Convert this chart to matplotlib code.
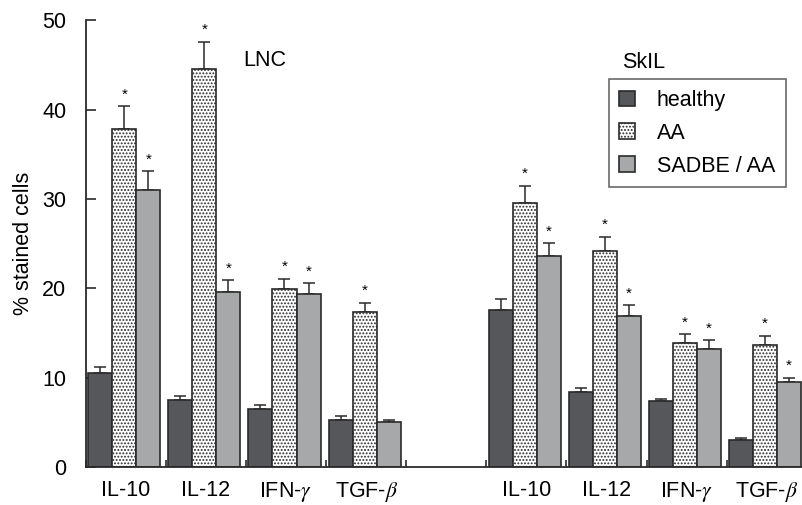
import matplotlib
matplotlib.use("Agg")
import matplotlib.pyplot as plt
import numpy as np

plt.rcParams['font.family'] = ['Liberation Sans', 'DejaVu Sans']
plt.rcParams['mathtext.fontset'] = 'stix'
plt.rcParams['hatch.linewidth'] = 0.9

# categories (slot 4 is the empty gap between LNC and SkIL)
labels = ['IL-10', 'IL-12', r'IFN-$\gamma$', r'TGF-$\beta$', '',
          'IL-10', 'IL-12', r'IFN-$\gamma$', r'TGF-$\beta$']
groups = ['healthy', 'AA', 'SADBE / AA']

healthy = [10.5, 7.5, 6.5, 5.3, None, 17.6, 8.4, 7.35, 3.0]
healthy_err = [0.7, 0.5, 0.4, 0.4, None, 1.2, 0.5, 0.3, 0.3]
aa = [37.8, 44.5, 19.9, 17.3, None, 29.6, 24.2, 13.9, 13.7]
aa_err = [2.6, 3.1, 1.2, 1.1, None, 1.9, 1.6, 1.0, 1.0]
sadbe = [31.0, 19.6, 19.4, 5.0, None, 23.6, 16.9, 13.2, 9.5]
sadbe_err = [2.1, 1.3, 1.2, 0.3, None, 1.5, 1.2, 1.0, 0.5]

# significance marks
aa_star = [1, 1, 1, 1, 0, 1, 1, 1, 1]
sadbe_star = [1, 1, 1, 0, 0, 1, 1, 1, 1]

fig = plt.figure(figsize=(8.02, 5.05), dpi=100)
ax = fig.add_axes([0.107, 0.075, 0.899, 0.885])

edge = '#2a2a2a'
w = 0.3
x = np.arange(len(labels))
series = [
    (healthy, healthy_err, None, dict(color='#55575a', edgecolor=edge)),
    (aa, aa_err, aa_star, dict(color='white', edgecolor=edge, hatch='.....')),
    (sadbe, sadbe_err, sadbe_star, dict(color='#a7a8aa', edgecolor=edge)),
]

handles = []
for k, (vals, errs, stars, style) in enumerate(series):
    xs = [xi + (k - 1) * w - 0.02 for xi, v in zip(x, vals) if v is not None]
    vs = [v for v in vals if v is not None]
    es = [e for e in errs if e is not None]
    b = ax.bar(xs, vs, width=w, linewidth=1.2, label=groups[k], zorder=2, **style)
    handles.append(b)
    ax.errorbar(xs, vs, yerr=[np.zeros(len(es)), es], fmt='none', ecolor=edge,
                elinewidth=1.1, capsize=4.5, capthick=1.1, zorder=1)
    if stars is not None:
        st = [s for s, v in zip(stars, vals) if v is not None]
        for xi, v, e, s in zip(xs, vs, es, st):
            if s:
                ax.text(xi, v + e + 0.5, '*', ha='center', va='bottom', fontsize=11)

ax.set_xlim(-0.5, 8.5)
ax.set_ylim(0, 50)
ax.set_yticks([0, 10, 20, 30, 40, 50])
ax.tick_params(axis='y', direction='in', length=7, width=1.2, labelsize=15.5, pad=14, color=edge)
ax.set_xticks(x)
ax.set_xticklabels(labels, fontsize=15.5)
ax.tick_params(axis='x', which='major', length=0, pad=9)
ax.set_xticks(np.arange(-0.5, 9, 1), minor=True)
ax.tick_params(axis='x', which='minor', direction='in', length=5, width=1.2, color=edge)
for s in ['top', 'right']:
    ax.spines[s].set_visible(False)
for s in ['left', 'bottom']:
    ax.spines[s].set_linewidth(1.3)
    ax.spines[s].set_color(edge)

ax.set_ylabel('% stained cells', fontsize=15.5, labelpad=6)

ax.text(1.46, 45.5, 'LNC', fontsize=15.5, va='center')
ax.text(6.2, 45.3, 'SkIL', fontsize=15.5, va='center')

leg = ax.legend(handles=handles, loc='upper left', bbox_to_anchor=(0.725, 0.868),
                fontsize=15.5, frameon=True, fancybox=False, edgecolor='#444444',
                handlelength=0.75, handleheight=0.75, handletextpad=1.0,
                labelspacing=0.55, borderpad=0.5, borderaxespad=0)
leg.get_frame().set_linewidth(1.2)

fig.savefig('out.png', dpi=100)
